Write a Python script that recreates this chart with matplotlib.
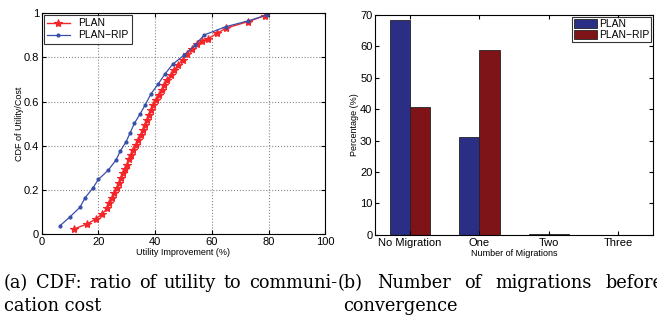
import numpy as np
import matplotlib
matplotlib.use("Agg")
import matplotlib.pyplot as plt

plt.rcParams['font.family'] = ['Liberation Sans', 'DejaVu Sans']

# CDF data (left panel)
plan_x = [11.5, 15.9, 19.2, 21.2, 23.2, 23.9, 24.9, 25.6, 26.5, 27.3, 27.9, 28.6,
          29.2, 30.0, 30.8, 31.5, 32.3, 33.3, 34.1, 34.9, 35.7, 36.4, 37.1, 37.8,
          38.6, 39.4, 40.3, 41.3, 42.3, 43.3, 44.3, 45.5, 46.8, 48.2, 49.7, 51.2,
          52.9, 54.7, 56.5, 58.7, 62.0, 65.0, 72.9, 78.8]
plan_y = [0.024, 0.046, 0.069, 0.091, 0.117, 0.140, 0.162, 0.185, 0.208, 0.230,
          0.253, 0.276, 0.294, 0.313, 0.339, 0.358, 0.381, 0.404, 0.427, 0.449,
          0.472, 0.494, 0.517, 0.539, 0.561, 0.584, 0.607, 0.630, 0.652, 0.675,
          0.698, 0.720, 0.743, 0.766, 0.790, 0.815, 0.838, 0.859, 0.872, 0.885,
          0.909, 0.932, 0.962, 0.989]
rip_x = [6.5, 10.0, 13.5, 15.3, 18.0, 20.0, 23.5, 26.2, 27.7, 29.8, 31.2, 32.7,
         34.7, 36.5, 38.5, 41.0, 43.5, 46.2, 50.3, 54.1, 57.3, 65.0, 72.9, 79.4]
rip_y = [0.039, 0.079, 0.122, 0.165, 0.208, 0.248, 0.290, 0.336, 0.376, 0.419,
         0.459, 0.502, 0.544, 0.585, 0.634, 0.678, 0.725, 0.769, 0.811, 0.856,
         0.901, 0.939, 0.965, 0.992]

# Migration data (right panel)
categories = ['No Migration', 'One', 'Two', 'Three']
plan_pct = [68.3, 31.1, 0.3, 0.05]
rip_pct = [40.6, 58.9, 0.3, 0.05]

W, H = 657, 320
fig = plt.figure(figsize=(W / 100, H / 100), dpi=100)

# left: CDF
ax1 = fig.add_axes([0.0635, 0.268, 0.4315, 0.691])
ax1.plot(plan_x, plan_y, color='#f5262a', marker='*', markersize=6, lw=1.0,
         markeredgewidth=0.8, label='PLAN')
ax1.plot(rip_x, rip_y, color='#3a4fa8', marker='.', markersize=4, lw=0.9,
         label='PLAN\u2212RIP')
ax1.set_xlim(0, 100)
ax1.set_ylim(0, 1)
ax1.set_xticks([0, 20, 40, 60, 80, 100])
ax1.set_yticks([0, 0.2, 0.4, 0.6, 0.8, 1])
ax1.set_yticklabels(['0', '0.2', '0.4', '0.6', '0.8', '1'])
ax1.grid(True, linestyle=':', color='#888888', lw=0.8)
ax1.set_xlabel('Utility Improvement (%)', fontsize=6.5, labelpad=1)
ax1.set_ylabel('CDF of Utility/Cost', fontsize=6.5, labelpad=0)
leg1 = ax1.legend(loc='upper left', fontsize=7.5, fancybox=False, edgecolor='black',
                  borderpad=0.3, handlelength=2.2, labelspacing=0.2,
                  borderaxespad=0.2)
leg1.get_frame().set_linewidth(0.8)

# right: bars
ax2 = fig.add_axes([0.571, 0.266, 0.423, 0.688])
idx = np.arange(1, len(categories) + 1)
w = 0.29
ax2.bar(idx - w / 2, plan_pct, w, color='#2a2e84', edgecolor='#222222', lw=0.6,
        label='PLAN')
ax2.bar(idx + w / 2, rip_pct, w, color='#7e1418', edgecolor='#222222', lw=0.6,
        label='PLAN\u2212RIP')
ax2.set_xlim(0.5, 4.5)
ax2.set_ylim(0, 70)
ax2.set_xticks(idx)
ax2.set_xticklabels(categories)
ax2.set_yticks(range(0, 71, 10))
ax2.set_xlabel('Number of Migrations', fontsize=6.5, labelpad=1)
ax2.set_ylabel('Percentage (%)', fontsize=6.5, labelpad=1)
leg2 = ax2.legend(loc='upper right', fontsize=7.5, fancybox=False, edgecolor='black',
                  borderpad=0.2, handlelength=2.2, handleheight=1.0,
                  labelspacing=0.1, borderaxespad=0.2, handletextpad=0.2)
leg2.get_frame().set_linewidth(0.8)

for ax in (ax1, ax2):
    ax.tick_params(direction='in', top=True, right=True, labelsize=8, length=3,
                   pad=2)
    for s in ax.spines.values():
        s.set_linewidth(0.8)

# captions (justified like the LaTeX subcaptions)
cap = dict(fontsize=12.8, family=['DejaVu Serif'], va='baseline')
renderer = fig.canvas.get_renderer()


def justify(words, x0, x1, ybase):
    texts = [fig.text(0, 1 - ybase / H, wd, **cap) for wd in words]
    widths = [t.get_window_extent(renderer).width for t in texts]
    gap = (x1 - x0 - sum(widths)) / (len(words) - 1)
    x = x0
    for t, wdt in zip(texts, widths):
        t.set_x(x / W)
        x += wdt + gap


justify(['(a)', 'CDF:', 'ratio', 'of', 'utility', 'to', 'communi-'], 4, 337, 288)
fig.text(4 / W, 1 - 311 / H, 'cation cost', **cap)
justify(['(b)', 'Number', 'of', 'migrations', 'before'], 338, 664, 288)
fig.text(343 / W, 1 - 311 / H, 'convergence', **cap)

fig.savefig('out.png', dpi=100)
